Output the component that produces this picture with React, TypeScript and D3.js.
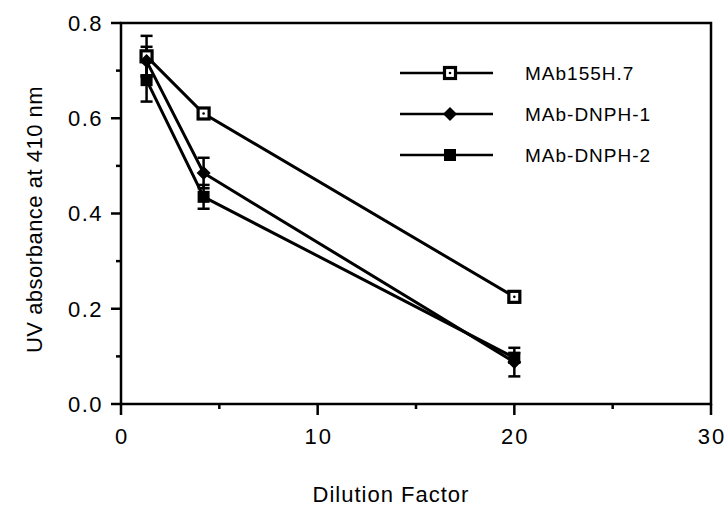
import React from "react";
import * as d3 from "d3";

const dilution = [1.3, 4.2, 20];
const mab155 = [0.73, 0.61, 0.225];
const mab155Err = [0.043, 0.01, 0.006];
const dnph1 = [0.72, 0.485, 0.088];
const dnph1Err = [0.03, 0.032, 0.03];
const dnph2 = [0.68, 0.435, 0.097];
const dnph2Err = [0.045, 0.025, 0.01];
const seriesNames = ["MAb155H.7", "MAb-DNPH-1", "MAb-DNPH-2"];
const xTicks = [0, 10, 20, 30];
const xMinor = [5, 15, 25];
const yTicks = [0, 0.2, 0.4, 0.6, 0.8];
const yMinor = [0.1, 0.3, 0.5, 0.7];

const W = 726, H = 506;
const L = 121, R = 711, T = 23, B = 404;
const FONT = "'Liberation Sans', Arial, Helvetica, sans-serif";

function Marker({ kind, x, y }: { kind: number; x: number; y: number }) {
  if (kind === 0) {
    return (
      <g>
        <rect x={x - 5.5} y={y - 5.5} width={11} height={11} fill="#fff" stroke="#000" strokeWidth={3.2} />
        <circle cx={x} cy={y} r={1.3} fill="#000" />
      </g>
    );
  }
  if (kind === 1) {
    const s = 7;
    return <path d={`M${x},${y - s}L${x + s},${y}L${x},${y + s}L${x - s},${y}Z`} fill="#000" />;
  }
  return <rect x={x - 6} y={y - 6} width={12} height={12} fill="#000" />;
}

export default function App() {
  const x = d3.scaleLinear().domain([0, 30]).range([L, R]);
  const y = d3.scaleLinear().domain([0, 0.8]).range([B, T]);
  const series = [
    { vals: mab155, err: mab155Err },
    { vals: dnph1, err: dnph1Err },
    { vals: dnph2, err: dnph2Err },
  ];
  const line = d3
    .line<number>()
    .x((_, i) => x(dilution[i]))
    .y((d) => y(d));

  const legendY = [73, 114, 155];

  return (
    <svg width={W} height={H} style={{ position: "absolute", left: 0, top: 0, background: "#fff" }}>
      <rect width={W} height={H} fill="#fff" />
      {/* frame */}
      <rect x={L} y={T} width={R - L} height={B - T} fill="none" stroke="#000" strokeWidth={2.5} />
      {/* y ticks */}
      {yTicks.map((t) => (
        <g key={"y" + t}>
          <line x1={L - 10} x2={L} y1={y(t)} y2={y(t)} stroke="#000" strokeWidth={2.5} />
          <text x={L - 18} y={y(t)} dy="0.36em" textAnchor="end" fontSize={22} fontFamily={FONT} letterSpacing={1.5}>
            {t.toFixed(1)}
          </text>
        </g>
      ))}
      {yMinor.map((t) => (
        <line key={"ym" + t} x1={L - 5} x2={L} y1={y(t)} y2={y(t)} stroke="#000" strokeWidth={2.5} />
      ))}
      {/* x ticks */}
      {xTicks.map((t) => (
        <g key={"x" + t}>
          <line x1={x(t)} x2={x(t)} y1={B} y2={B + 11} stroke="#000" strokeWidth={2.5} />
          <text x={x(t)} dx={1} y={444} textAnchor="middle" fontSize={22} fontFamily={FONT} letterSpacing={2}>
            {t}
          </text>
        </g>
      ))}
      {xMinor.map((t) => (
        <line key={"xm" + t} x1={x(t)} x2={x(t)} y1={B} y2={B + 5} stroke="#000" strokeWidth={2.5} />
      ))}
      {/* axis titles */}
      <text x={391} y={502} textAnchor="middle" fontSize={22} fontFamily={FONT} letterSpacing={1}>
        Dilution  Factor
      </text>
      <text
        transform={`translate(42,${(T + B) / 2 + 6}) rotate(-90)`}
        textAnchor="middle"
        fontSize={22}
        fontFamily={FONT}
        letterSpacing={0.5}
      >
        UV absorbance at 410 nm
      </text>
      {/* series lines */}
      {series.map((s, si) => (
        <path key={"l" + si} d={line(s.vals) || ""} fill="none" stroke="#000" strokeWidth={3} />
      ))}
      {/* error bars */}
      {series.map((s, si) =>
        s.vals.map((v, i) => {
          const cx = x(dilution[i]);
          const y1 = y(v + s.err[i]);
          const y2 = y(v - s.err[i]);
          return (
            <g key={"e" + si + "-" + i} stroke="#000" strokeWidth={2.5}>
              <line x1={cx} x2={cx} y1={y1} y2={y2} />
              <line x1={cx - 6} x2={cx + 6} y1={y1} y2={y1} />
              <line x1={cx - 6} x2={cx + 6} y1={y2} y2={y2} />
            </g>
          );
        })
      )}
      {/* markers */}
      {series.map((s, si) =>
        s.vals.map((v, i) => <Marker key={"m" + si + "-" + i} kind={si} x={x(dilution[i])} y={y(v)} />)
      )}
      {/* legend */}
      {seriesNames.map((name, i) => (
        <g key={"lg" + i}>
          <line x1={400} x2={493} y1={legendY[i]} y2={legendY[i]} stroke="#000" strokeWidth={2.5} />
          <Marker kind={i} x={450} y={legendY[i]} />
          <text x={525} y={legendY[i]} dy="0.36em" fontSize={19} fontFamily={FONT} letterSpacing={1}>
            {name}
          </text>
        </g>
      ))}
    </svg>
  );
}
